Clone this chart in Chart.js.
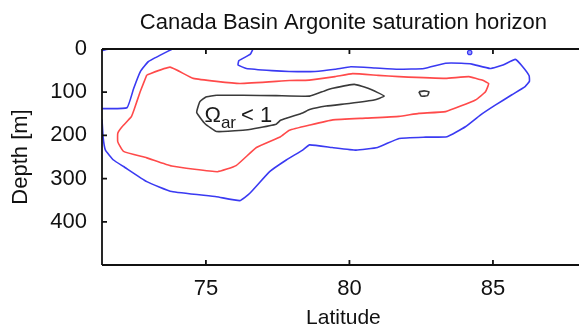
<!DOCTYPE html>
<html><head><meta charset="utf-8">
<script src="https://cdn.jsdelivr.net/npm/chart.js@4/dist/chart.umd.min.js"></script>
<style>html,body{margin:0;padding:0;overflow:hidden;background:#fff;width:579px;height:329px}
#wrap{width:590px;height:329px}</style>
</head><body><div id="wrap"><canvas id="c" width="590" height="329"></canvas></div>
<script>
const chartTitle = 'Canada Basin Argonite saturation horizon';
const xTitle = 'Latitude';
const yTitle = 'Depth [m]';
const xTicks = [75, 80, 85];
const yTicks = [0, 100, 200, 300, 400];
const latRange = [71.38, 88.2];
const depthRange = [0, 500];

// contour Ωar = threshold (outer, blue)
const blueMain = [[76.64,0],[76.55,12],[76.15,27],[76.12,37],[76.41,45],[77.3,50],[77.9,52],[78.8,52],[79.5,47],[80.05,41],[80.9,44],[81.7,47],[82.6,45],[83.35,33],[83.9,33],[84.27,35],[84.9,45],[85.35,37],[85.78,24],[86.05,42],[86.26,62],[86.27,75],[86.12,87],[85.66,106],[85.08,130],[84.56,153],[84.04,180],[83.4,203],[82.66,204],[81.73,207],[80.98,228],[80.23,234],[79.4,228],[78.61,222],[78.37,234],[77.8,257],[77.22,284],[76.53,334],[76.18,351],[75.37,342],[73.81,330],[72.94,307],[72.13,272],[71.78,257],[71.5,234],[71.42,205],[71.38,163]];
const blueUpperLeft = [[73.83,0],[73.0,29],[72.72,52],[72.48,92],[72.25,136],[71.38,138]];
const blueCorner = [[71.38,4],[71.5,1.5],[71.62,0]];
const blueDot = [[84.19,8]];
// middle contour (red)
const redLoop = [[72.94,60],[73.75,42],[74.56,68],[76.18,80],[77.91,73],[78.6,72],[79.5,64],[80.11,57],[81.0,61],[81.73,64],[83.35,68],[84.16,64],[84.62,72],[84.85,80],[84.74,99],[84.39,118],[83.35,145],[82.42,149],[81.73,156],[80.57,160],[79.42,164],[78.62,176],[77.91,188],[77.6,203],[76.76,228],[76.05,270],[75.4,284],[73.81,271],[72.94,252],[72.13,237],[71.93,215],[71.93,195],[72.08,180],[72.4,157],[72.5,140],[72.71,99],[72.94,60]];
// inner contour Ωar = 1 (black)
const blackLoop = [[75.37,107],[76.29,107],[77.45,108],[78.61,109],[79.13,97],[79.42,91],[80.17,82],[80.69,92],[81.21,109],[80.86,118],[79.99,126],[79.19,132],[78.61,140],[78.37,148],[77.6,165],[77.45,174],[76.7,184],[76.29,188],[75.37,191],[74.97,173],[74.68,147],[74.79,122],[75.0,111],[75.37,107]];
const blackSmall = [[82.42,99],[82.6,97],[82.77,99],[82.72,108],[82.5,109],[82.42,99]];
const annotation = {lat: 74.95, depth: 170};

const FONT = 'Arial, "Liberation Sans", Helvetica, sans-serif';
const BLUE = '#3a3af2', RED = '#ff4a4a', BLACK = '#3a3a3a';
const pts = a => a.map(p => ({x: p[0], y: p[1]}));
const line = (d, c) => ({data: pts(d), borderColor: c, backgroundColor: c, showLine: true, borderWidth: 1.6, pointRadius: 0, tension: 0.12, fill: false});

const framePlugin = {
  id: 'frame',
  afterDraw(chart) {
    const {ctx, chartArea: a, scales: {x, y}} = chart;
    ctx.save();
    ctx.strokeStyle = '#111'; ctx.lineWidth = 1.8;
    ctx.beginPath();
    ctx.moveTo(a.left, a.top); ctx.lineTo(a.right + 5, a.top);
    ctx.moveTo(a.left, a.top); ctx.lineTo(a.left, a.bottom);
    ctx.moveTo(a.left, a.bottom); ctx.lineTo(a.right + 5, a.bottom);
    xTicks.forEach(v => { const px = x.getPixelForValue(v);
      ctx.moveTo(px, a.bottom); ctx.lineTo(px, a.bottom - 5);
      ctx.moveTo(px, a.top); ctx.lineTo(px, a.top + 5); });
    yTicks.forEach(v => { const py = y.getPixelForValue(v);
      ctx.moveTo(a.left, py); ctx.lineTo(a.left + 5, py); });
    ctx.stroke();
    // annotation Ω_ar < 1
    const ax = x.getPixelForValue(annotation.lat), ay = y.getPixelForValue(annotation.depth);
    ctx.fillStyle = '#1a1a1a'; ctx.textBaseline = 'alphabetic'; ctx.textAlign = 'left';
    ctx.font = '22px ' + FONT;
    ctx.fillText('Ω', ax, ay);
    const w1 = ctx.measureText('Ω').width;
    ctx.font = '17px ' + FONT;
    ctx.fillText('ar', ax + w1, ay + 6);
    const w2 = ctx.measureText('ar').width;
    ctx.font = '22px ' + FONT;
    ctx.fillText('< 1', ax + w1 + w2 + 5, ay);
    ctx.restore();
  }
};

new Chart(document.getElementById('c'), {
  type: 'scatter',
  data: {datasets: [
    line(blueMain, BLUE), line(blueUpperLeft, BLUE), line(blueCorner, BLUE),
    {data: pts(blueDot), borderColor: BLUE, backgroundColor: '#9a9aff', pointRadius: 2.2, borderWidth: 1.2, showLine: false},
    line(redLoop, RED), line(blackLoop, BLACK), line(blackSmall, BLACK)
  ]},
  options: {
    responsive: false, animation: false, devicePixelRatio: 1,
    layout: {padding: {left: 0, right: 3, top: 0, bottom: 0}},
    plugins: {
      legend: {display: false}, tooltip: {enabled: false},
      title: {display: true, text: chartTitle, fullSize: false, color: '#111',
        font: {family: FONT, size: 22, weight: 'normal', lineHeight: 1.2}, padding: {top: 10, bottom: 12.6}}
    },
    scales: {
      x: {type: 'linear', min: latRange[0], max: latRange[1],
        afterBuildTicks: s => { s.ticks = xTicks.map(v => ({value: v})); },
        afterFit: s => { s.height = 64; },
        grid: {display: false, drawTicks: false}, border: {display: false},
        ticks: {color: '#111', padding: 11, font: {family: FONT, size: 22}, maxRotation: 0},
        title: {display: true, text: xTitle, color: '#111', font: {family: FONT, size: 21, lineHeight: 1.0}, padding: {top: 0, bottom: 0}}
      },
      y: {type: 'linear', reverse: true, min: depthRange[0], max: depthRange[1],
        afterBuildTicks: s => { s.ticks = yTicks.map(v => ({value: v})); },
        afterFit: s => { s.width = 102; },
        grid: {display: false, drawTicks: false}, border: {display: false},
        ticks: {color: '#111', padding: 15, font: {family: FONT, size: 22}},
        title: {display: true, text: yTitle, color: '#111', font: {family: FONT, size: 22, lineHeight: 1.2}, padding: {top: 8, bottom: 0}}
      }
    }
  },
  plugins: [framePlugin]
});
</script></body></html>
